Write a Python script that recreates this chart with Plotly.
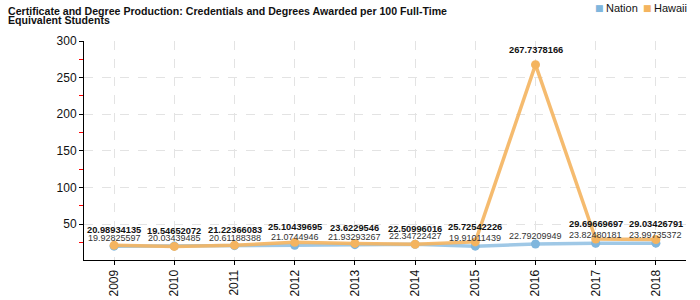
import plotly.graph_objects as go

years = ["2009", "2010", "2011", "2012", "2013", "2014", "2015", "2016", "2017", "2018"]
nation = [19.92825597, 20.03439485, 20.61188388, 21.0744946, 21.93293267,
          22.34722427, 19.91011439, 22.79209949, 23.82480181, 23.99735372]
hawaii = [20.98934135, 19.54652072, 21.22366083, 25.10439695, 23.6229546,
          22.50996016, 25.72542226, 267.7378166, 29.69669697, 29.03426791]
series_names = ["Nation", "Hawaii"]

NATION_C = "#7fb6dd"
HAWAII_C = "#f4b45f"
FONT = "Liberation Sans, Arial, sans-serif"

L, R, T, B = 84, 14, 41, 40
PW, PH = 700 - L - R, 300 - T - B


def px_x(p):
    return (p - L) / PW


def px_y(p):
    return (300 - B - p) / PH


fig = go.Figure()
fig.add_trace(go.Scatter(x=years, y=nation, mode="lines+markers", showlegend=False,
                         line=dict(color="rgba(127,182,221,0.75)", width=3.5),
                         marker=dict(color=NATION_C, size=9), cliponaxis=False))
fig.add_trace(go.Scatter(x=years, y=hawaii, mode="lines+markers", showlegend=False,
                         line=dict(color="rgba(244,180,95,0.9)", width=3.5),
                         marker=dict(color=HAWAII_C, size=9), cliponaxis=False))

ann = []
for i, v in enumerate(nation):
    ann.append(dict(x=i, y=v, text=str(v), showarrow=False, yshift=8,
                    yanchor="middle", xanchor="center",
                    font=dict(size=9, color="#333", family=FONT)))
for i, v in enumerate(hawaii):
    ann.append(dict(x=i, y=v, text=f"<b>{v}</b>", showarrow=False, yshift=15,
                    yanchor="middle", xanchor="center",
                    font=dict(size=9.3, color="#111", family=FONT)))
ann.append(dict(xref="paper", yref="paper", x=px_x(6), y=px_y(10.5),
                xanchor="left", yanchor="middle", showarrow=False,
                text="<b>Certificate and Degree Production: Credentials and Degrees Awarded per 100 Full-Time</b>",
                font=dict(size=10.6, color="#111", family=FONT)))
ann.append(dict(xref="paper", yref="paper", x=px_x(6), y=px_y(20),
                xanchor="left", yanchor="middle", showarrow=False,
                text="<b>Equivalent Students</b>",
                font=dict(size=10.6, color="#111", family=FONT)))
# legend (drawn as text)
for name, col, sx in zip(series_names, [NATION_C, HAWAII_C], [599, 647]):
    ann.append(dict(xref="paper", yref="paper", x=px_x(sx), y=px_y(8),
                    xanchor="center", yanchor="middle", showarrow=False,
                    text=f"<span style='color:{col}'>■</span>",
                    font=dict(size=9, color=col, family="DejaVu Sans")))
    ann.append(dict(xref="paper", yref="paper", x=px_x(sx + 5), y=px_y(8),
                    xanchor="left", yanchor="middle", showarrow=False,
                    text=name, font=dict(size=11, color="#111", family=FONT)))

fig.update_layout(
    width=700, height=300,
    margin=dict(l=L, r=R, t=T, b=B, pad=0, autoexpand=False),
    plot_bgcolor="white", paper_bgcolor="white",
    showlegend=False,
    font=dict(family=FONT, color="#111", size=12),
    annotations=ann,
    xaxis=dict(type="category", range=[-0.5, 9.5], showline=True, linecolor="#000",
               linewidth=1, ticks="outside", ticklen=4, tickcolor="#000",
               tickangle=-90, tickfont=dict(size=12),
               showgrid=True, gridcolor="#e3e3e3", griddash="dash", gridwidth=1,
               zeroline=False),
    yaxis=dict(range=[1, 300], showline=True, linecolor="#000", linewidth=1,
               ticks="outside", ticklen=4, tickcolor="#000",
               tickvals=[50, 100, 150, 200, 250, 300], tickfont=dict(size=12),
               showgrid=True, gridcolor="#e3e3e3", griddash="dash", gridwidth=1,
               zeroline=False,
               minor=dict(tickvals=[25, 75, 125, 175, 225, 275], ticks="outside",
                          ticklen=4, tickcolor="red", showgrid=False)),
)

fig.write_html("out.html")
